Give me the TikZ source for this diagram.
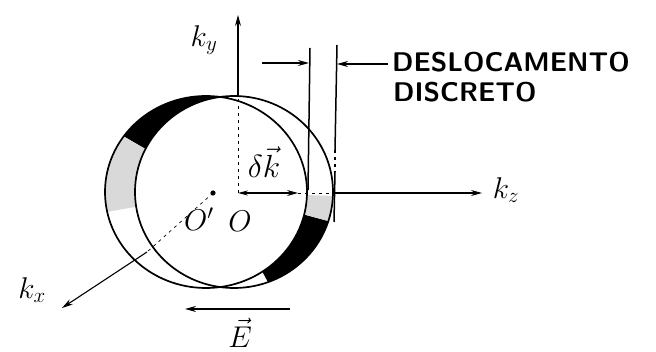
\RequirePackage{fix-cm}
\documentclass[tikz,border=0pt]{standalone}
\usepackage{amsmath, amssymb}
\usepackage{tikz}
\usetikzlibrary{arrows.meta, calc}
\tikzset{
  >=Stealth,
  axisarrow/.style={-{Stealth[length=11pt, width=6pt]}, line width=1.1pt, black},
  dimarrow/.style={-{Stealth[length=11pt, width=6pt]}, line width=1.4pt, black},
  dkarrow/.style={{Stealth[length=10pt, width=5pt]}-{Stealth[length=11pt, width=6pt]}, line width=1.2pt, black},
  hiddenline/.style={line width=0.7pt, dash pattern=on 3pt off 4pt}
}

\begin{document}
\begin{tikzpicture}[x=1pt, y=-1pt,
    sphere/.style={line width=1.7pt},
    tangentline/.style={line width=1.5pt},
    lbl/.style={font=\fontsize{30}{32}\selectfont, inner sep=0pt},
    txt/.style={font=\sffamily\bfseries\fontsize{27}{30}\selectfont, inner sep=0pt, anchor=west}
]
    \useasboundingbox (0,0) rectangle (656,352);

    % Centres
    \coordinate (O) at (238,193);
    \coordinate (Op) at (213,193);
    \coordinate (C) at (220,192);

    % Crescents between the two spheres
    \begin{scope}
        \clip (C) -- +(-85:300) -- +(-120:300) -- +(-150:300) -- cycle;
        \fill[even odd rule] (206,192) ellipse [x radius=101, y radius=96] (234,192) ellipse [x radius=99, y radius=96];
    \end{scope}
    \begin{scope}
        \clip (C) -- +(-150:300) -- +(-170:300) -- +(-190:300) -- cycle;
        \fill[gray!30, even odd rule] (206,192) ellipse [x radius=101, y radius=96] (234,192) ellipse [x radius=99, y radius=96];
    \end{scope}
    \begin{scope}
        \clip (C) -- +(15:300) -- +(40:300) -- +(62:300) -- cycle;
        \fill[even odd rule] (206,192) ellipse [x radius=101, y radius=96] (234,192) ellipse [x radius=99, y radius=96];
    \end{scope}
    \begin{scope}
        \clip (C) -- +(2:300) -- +(8:300) -- +(15:300) -- cycle;
        \fill[gray!30, even odd rule] (206,192) ellipse [x radius=101, y radius=96] (234,192) ellipse [x radius=99, y radius=96];
    \end{scope}

    % Spheres
    \draw[sphere] (206,192) ellipse [x radius=101, y radius=96];
    \draw[sphere] (234,192) ellipse [x radius=99, y radius=96];

    % k_y axis
    \coordinate (ytop) at (238,97);
    \coordinate (ytip) at (238,15);
    \draw[hiddenline] (O) -- (ytop);
    \draw[axisarrow] (ytop) -- (ytip);
    \node[lbl] (ky) at (204,40) {$k_y$};

    % k_z axis
    \coordinate (dkend) at (298,193);
    \coordinate (zout) at (333,193);
    \coordinate (ztip) at (482,193);
    \draw[dkarrow] (O) -- (dkend);
    \draw[hiddenline] (dkend) -- (zout);
    \draw[axisarrow] (zout) -- (ztip);
    \node[lbl] (kz) at (506,190) {$k_z$};

    % k_x axis
    \coordinate (xout) at (147,252);
    \coordinate (xtip) at (62,308);
    \draw[hiddenline] (Op) -- (xout);
    \draw[axisarrow] (xout) -- (xtip);
    \node[lbl] (kx) at (32,290) {$k_x$};

    % Origins
    \fill (Op) circle (2.6);
    \node[lbl, font=\fontsize{30}{32}\selectfont] (Olbl) at (240,221) {$O$};
    \node[lbl, font=\fontsize{30}{32}\selectfont] (Oplbl) at (199,219) {$O'$};
    \node[lbl, font=\fontsize{32}{34}\selectfont] (dk) at (264,162) {$\delta\vec{k}$};

    % Displacement marks
    \coordinate (t1a) at (310,48);
    \coordinate (t1b) at (308,190);
    \coordinate (t2a) at (337,45);
    \coordinate (t2m) at (335,150);
    \coordinate (t2n) at (335,172);
    \coordinate (t2b) at (334,222);
    \draw[tangentline] (t1a) -- (t1b);
    \draw[tangentline] (t2a) -- (t2m);
    \draw[hiddenline, line width=1.2pt] (t2m) -- (t2n);
    \draw[tangentline] (t2n) -- (t2b);

    \coordinate (d1) at (262,63);
    \coordinate (d1e) at (309,63);
    \coordinate (d2) at (388,64);
    \coordinate (d2e) at (337,64);
    \draw[dimarrow] (d1) -- (d1e);
    \draw[dimarrow] (d2) -- (d2e);
    \node[txt] (desl) at (392,62) {DESLOCAMENTO};
    \node[txt] (disc) at (393,92) {DISCRETO};

    % Electric field
    \coordinate (e1) at (290,309);
    \coordinate (e2) at (185,309);
    \draw[dimarrow] (e1) -- (e2);
    \node[lbl, font=\fontsize{30}{32}\selectfont] (E) at (240,333) {$\vec{E}$};
\end{tikzpicture}
\end{document}
